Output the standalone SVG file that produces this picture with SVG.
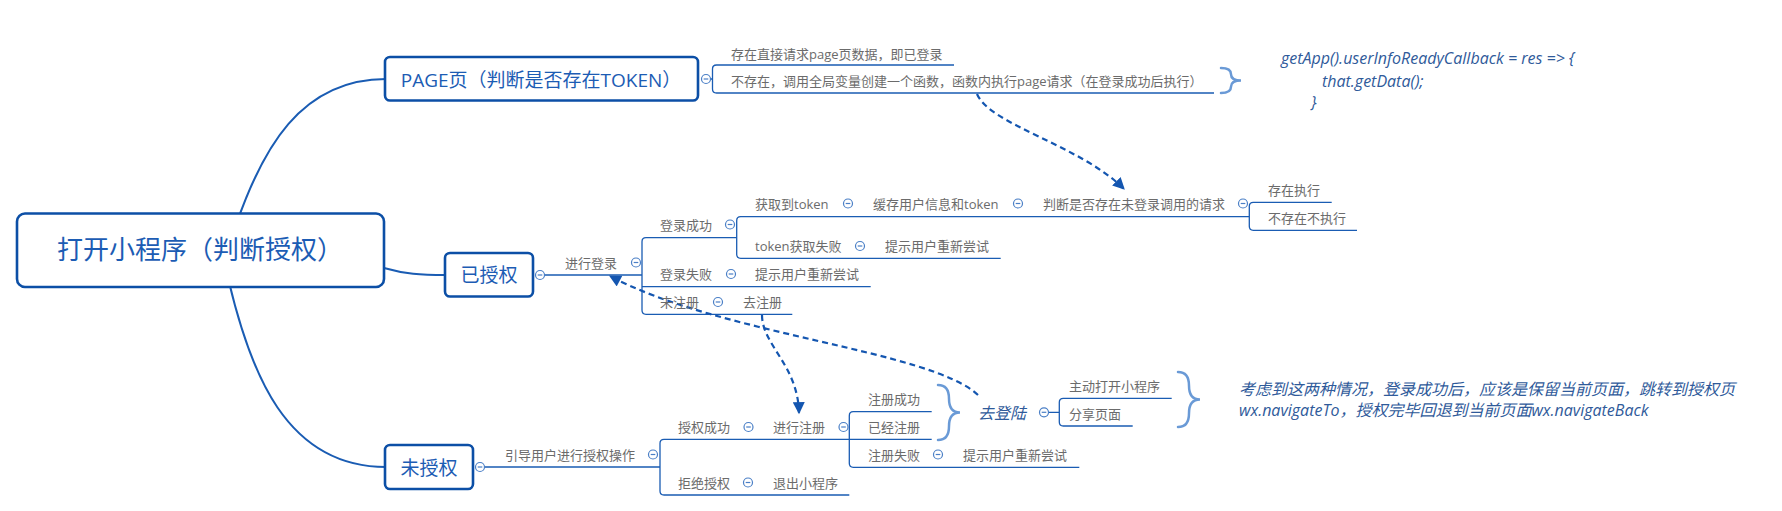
<svg xmlns="http://www.w3.org/2000/svg" width="1782" height="511" viewBox="0 0 1782 511">
<style>
text{font-family:"Open Sans","Noto Sans CJK SC",sans-serif}
.box{fill:#fff;stroke:#0c4fa6;stroke-width:2.6}
.tt{fill:#1c5cb4}
.sub{font-size:13px;fill:#6b6b6b}
.ln{fill:none;stroke:#1a5cb3;stroke-width:1.3}
.br{fill:none;stroke:#1a5cb3;stroke-width:2}
.dash{fill:none;stroke:#1456b0;stroke-width:2.2;stroke-dasharray:6 4}
.brace{fill:none;stroke:#6a9ad6;stroke-width:2.5;stroke-linecap:round}
.col circle{fill:#fff;stroke:#4a7fc6;stroke-width:1.2}
.col path{stroke:#4a7fc6;stroke-width:1.2}
.it{font-style:italic;font-size:16px;fill:#2f5a9a}
</style>
<defs>
<marker id="ah" viewBox="0 0 10 10" refX="9" refY="5" markerWidth="13" markerHeight="12" markerUnits="userSpaceOnUse" orient="auto">
<path d="M0,0 L10,5 L0,10 z" fill="#1456b0"/>
</marker>
<g id="cb" class="col"><circle cx="0" cy="0" r="4.5"/><path d="M-2.3,0 H2.3"/></g>
</defs>
<rect width="1782" height="511" fill="#fff"/>
<g id="connectors">
<path class="br" d="M236,225 C262,150 300,79 386,79"/>
<path class="br" d="M384,268 C405,274 420,275 446,275"/>
<path class="br" d="M229,282 C250,370 285,467 386,467"/>
<!-- PAGE children -->
<path class="ln" d="M710,79 H712.5 M954,65 H716.5 Q712.5,65 712.5,69 V89 Q712.5,93 716.5,93 H1214"/>
<!-- 已授权 -->
<path class="ln" d="M544.5,275 H642 M736.7,237.7 H646 Q642,237.7 642,241.7 V310.3 Q642,314.3 646,314.3 H792.3 M642,286.7 H870.7"/>
<path class="ln" d="M1249.3,216.7 H740.7 Q736.7,216.7 736.7,220.7 V254.3 Q736.7,258.3 740.7,258.3 H1000.7"/>
<path class="ln" d="M1331.7,202.3 H1253.3 Q1249.3,202.3 1249.3,206.3 V226.3 Q1249.3,230.3 1253.3,230.3 H1357"/>
<!-- 未授权 -->
<path class="ln" d="M484.5,467 H660 M849.3,439.3 H664 Q660,439.3 660,443.3 V491 Q660,495 664,495 H849.3"/>
<path class="ln" d="M931.7,411.7 H853.3 Q849.3,411.7 849.3,415.7 V463.3 Q849.3,467.3 853.3,467.3 H1079.3 M849.3,439.3 H931.7"/>
<path class="ln" d="M1048.5,412.3 H1059.3 M1171.7,398.3 H1063.3 Q1059.3,398.3 1059.3,402.3 V422 Q1059.3,426 1063.3,426 H1132.7"/>
<!-- braces -->
<path class="brace" d="M1221,68 Q1231,68 1231,74.2 Q1231,80.5 1241,80.5 Q1231,80.5 1231,86.7 Q1231,93 1221,93"/>
<path class="brace" d="M938,385 Q949,385 949,398.7 Q949,412.5 960,412.5 Q949,412.5 949,426.2 Q949,440 938,440"/>
<path class="brace" d="M1178,372 Q1189,372 1189,385.7 Q1189,399.5 1200,399.5 Q1189,399.5 1189,413.2 Q1189,427 1178,427"/>
<!-- dashed relations -->
<path class="dash" d="M977,94 C990,125 1080,145 1124,189" marker-end="url(#ah)"/>
<path class="dash" d="M978,395 C930,350 720,335 610,276" marker-end="url(#ah)"/>
<path class="dash" d="M762,315 C762,345 798,365 799,413" marker-end="url(#ah)"/>
</g>
<g id="root">
<rect class="box" x="17" y="213.5" width="367" height="73.5" rx="8" stroke-width="3"/>
<text class="tt" x="200" y="259" font-size="26" text-anchor="middle">打开小程序（判断授权）</text>
</g>
<g id="page">
<rect class="box" x="385" y="57" width="313" height="43.5" rx="5"/>
<text class="tt" x="541" y="86.5" font-size="19" text-anchor="middle">PAGE页（判断是否存在TOKEN）</text>
<use href="#cb" x="706" y="79"/>
</g>
<g id="page-c1"><text class="sub" x="731" y="58.5">存在直接请求page页数据，即已登录</text></g>
<g id="page-c2"><text class="sub" x="731" y="86">不存在，调用全局变量创建一个函数，函数内执行page请求（在登录成功后执行）</text></g>
<g id="code">
<text class="it" x="1281" y="64">getApp().userInfoReadyCallback = res =&gt; {</text>
<text class="it" x="1322" y="87">that.getData();</text>
<text class="it" x="1311" y="108">}</text>
</g>
<g id="authorized">
<rect class="box" x="445" y="253" width="88" height="43.5" rx="5"/>
<text class="tt" x="489" y="282" font-size="19" text-anchor="middle">已授权</text>
<use href="#cb" x="540" y="275"/>
</g>
<g id="login"><text class="sub" x="565" y="268">进行登录</text><use href="#cb" x="636" y="262.5"/></g>
<g id="login-ok"><text class="sub" x="660" y="230">登录成功</text><use href="#cb" x="730" y="224.5"/></g>
<g id="get-token"><text class="sub" x="755" y="209">获取到token</text><use href="#cb" x="848" y="203.5"/></g>
<g id="cache"><text class="sub" x="873" y="209">缓存用户信息和token</text><use href="#cb" x="1018" y="203.5"/></g>
<g id="check"><text class="sub" x="1043" y="209">判断是否存在未登录调用的请求</text><use href="#cb" x="1243" y="203.5"/></g>
<g id="exist"><text class="sub" x="1268" y="194.5">存在执行</text></g>
<g id="not-exist"><text class="sub" x="1268" y="223">不存在不执行</text></g>
<g id="token-fail"><text class="sub" x="755" y="251">token获取失败</text><use href="#cb" x="860" y="246"/></g>
<g id="retry1"><text class="sub" x="885" y="251">提示用户重新尝试</text></g>
<g id="login-fail"><text class="sub" x="660" y="279">登录失败</text><use href="#cb" x="731" y="274"/></g>
<g id="retry2"><text class="sub" x="755" y="279">提示用户重新尝试</text></g>
<g id="unreg"><text class="sub" x="660" y="307">未注册</text><use href="#cb" x="718" y="302"/></g>
<g id="goreg"><text class="sub" x="743" y="307">去注册</text></g>
<g id="unauthorized">
<rect class="box" x="385" y="445" width="88" height="44" rx="5"/>
<text class="tt" x="429" y="474.5" font-size="19" text-anchor="middle">未授权</text>
<use href="#cb" x="480" y="467"/>
</g>
<g id="guide"><text class="sub" x="505" y="459.5">引导用户进行授权操作</text><use href="#cb" x="653" y="454.5"/></g>
<g id="auth-ok"><text class="sub" x="678" y="432">授权成功</text><use href="#cb" x="748.5" y="427"/></g>
<g id="register"><text class="sub" x="773" y="432">进行注册</text><use href="#cb" x="843.5" y="427"/></g>
<g id="reg-ok"><text class="sub" x="868" y="404">注册成功</text></g>
<g id="reg-already"><text class="sub" x="868" y="432">已经注册</text></g>
<g id="reg-fail"><text class="sub" x="868" y="459.5">注册失败</text><use href="#cb" x="938" y="454.5"/></g>
<g id="retry3"><text class="sub" x="963" y="459.5">提示用户重新尝试</text></g>
<g id="reject"><text class="sub" x="678" y="488">拒绝授权</text><use href="#cb" x="748" y="482.5"/></g>
<g id="exit"><text class="sub" x="773" y="488">退出小程序</text></g>
<g id="go-login"><text class="it" x="978" y="418.5" fill="#34558a">去登陆</text><use href="#cb" x="1044" y="412.3"/></g>
<g id="open-app"><text class="sub" x="1069" y="391">主动打开小程序</text></g>
<g id="share"><text class="sub" x="1069" y="418.5">分享页面</text></g>
<g id="note">
<text class="it" x="1239" y="395">考虑到这两种情况，登录成功后，应该是保留当前页面，跳转到授权页</text>
<text class="it" x="1239" y="416">wx.navigateTo，授权完毕回退到当前页面wx.navigateBack</text>
</g>
</svg>
